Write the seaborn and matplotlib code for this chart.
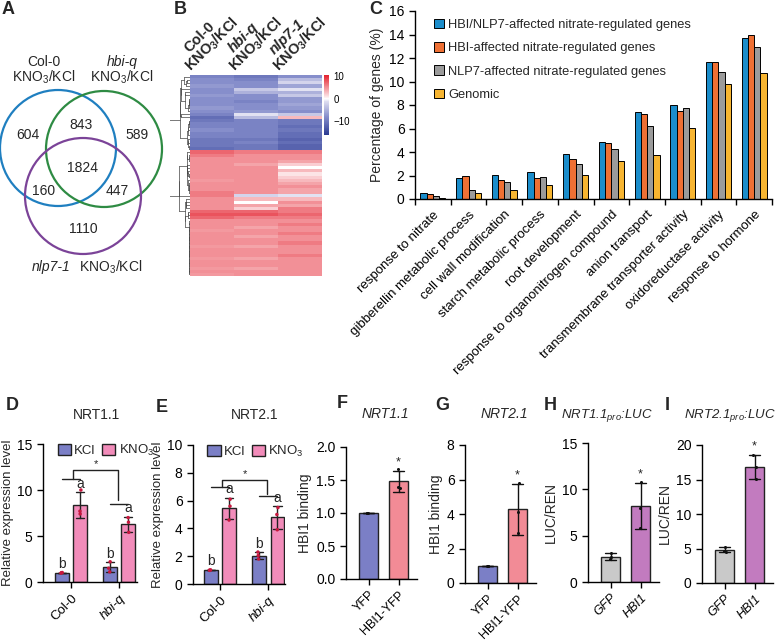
import numpy as np
import pandas as pd
import matplotlib
matplotlib.use('Agg')
import matplotlib.pyplot as plt
import seaborn as sns
from matplotlib.patches import Circle
from matplotlib.colors import LinearSegmentedColormap

# ---------------- data ----------------
# A: Venn counts (Col-0 only, Col-0&hbi-q, hbi-q only, all, Col-0&nlp7-1, hbi-q&nlp7-1, nlp7-1 only)
venn_counts = [604, 843, 589, 1824, 160, 447, 1110]

# B: heatmap of KNO3/KCl values, blue block (24 rows) then red block (40 rows)
col0_vals = [-9, -8, -8, -7, -8, -8, -7, -8, -8, -8, -7, -8, -9, -11, -10, -9, -9, -8, -9, -9, -10, -10, -10, -11,
             7, 6, 5, 5, 5, 5, 5, 5, 5, 4.5, 5, 5, 5, 6, 6, 5, 5, 5, 5, 7, 8, 7, 5, 5,
             5, 4.5, 5, 5, 5, 5, 4.5, 5, 5, 5, 4.5, 5, 5, 4.5, 5, 4.5]
hbiq_vals = [-10, -9, -8, -8, -3, -5, -8, -8, -9, -8, -8, -7, -1, -4, -9, -9, -9, -9, -9, -9, -10, -9, -10, -10,
             6, 5, 5, 5, 4, 5, 5, 5, 5, 5, 5, 5, 5, 5, -2, 3, 0, 4, 2, 7, 8, 6, 5, 5,
             4, 5, 5, 4, 5, 5, 4, 5, 5, 5, 4, 5, 5, 4, 5, 5]
nlp7_vals = [-8, -4, -2, -6, -1, -5, -3, -7, -7, -6, -7, -8, -3, 3, -10, -10, -11, -10, -11, -11, -12, -11, -12, -12,
             6, 5, 5, 4, 2, 0, 3, 1, 2, 3, 4, 5, 4, 4, -1, 3, 5, 4, 6, 6, 7, 6, 5, 6,
             5, 5, 6, 5, 5, 6, 5, 5, 5, 6, 5, 5, 5, 5, 5, 5]

# C: GO term percentages
go_terms = ['response to nitrate', 'gibberellin metabolic process', 'cell wall modification',
            'starch metabolic process', 'root development', 'response to organonitrogen compound',
            'anion transport', 'transmembrane transporter activity', 'oxidoreductase activity',
            'response to hormone']
series_names = ['HBI/NLP7-affected nitrate-regulated genes', 'HBI-affected nitrate-regulated genes',
                'NLP7-affected nitrate-regulated genes', 'Genomic']
pct_hbi_nlp7 = [0.55, 1.78, 2.07, 2.3, 3.82, 4.82, 7.37, 7.99, 11.67, 13.71]
pct_hbi = [0.42, 2.0, 1.6, 1.8, 3.4, 4.79, 7.22, 7.5, 11.64, 13.99]
pct_nlp7 = [0.22, 0.8, 1.42, 1.87, 3.0, 4.22, 6.18, 7.73, 10.8, 12.92]
pct_genomic = [0.08, 0.5, 0.74, 1.22, 2.07, 3.26, 3.77, 6.03, 9.75, 10.74]

# D/E: qPCR replicates
genotypes = ['Col-0', 'hbi-q']
nrt11_kcl = [[0.97, 1.0, 1.03], [2.2, 1.5, 1.1]]
nrt11_kno3 = [[10.0, 7.7, 7.4], [7.0, 6.5, 5.4]]
nrt21_kcl = [[0.98, 1.0, 1.02], [2.3, 2.05, 1.8]]
nrt21_kno3 = [[6.1, 5.6, 4.6], [5.5, 5.0, 3.9]]

# F-I: ChIP and LUC replicates
chip_groups = ['YFP', 'HBI1-YFP']
chip_nrt11 = [[1.0, 1.0, 1.0], [1.66, 1.40, 1.38]]
chip_nrt21 = [[1.0, 1.0, 1.0], [5.8, 4.1, 2.9]]
luc_groups = ['GFP', 'HBI1']
luc_nrt11 = [[3.1, 2.7, 2.45], [10.8, 8.0, 5.8]]
luc_nrt21 = [[5.2, 4.7, 4.5], [18.5, 16.8, 15.1]]

# ---------------- style ----------------
sns.set_style('ticks')
plt.rcParams['font.family'] = ['Liberation Sans', 'DejaVu Sans']
plt.rcParams['mathtext.default'] = 'regular'
plt.rcParams['axes.linewidth'] = 1.0
plt.rcParams['axes.edgecolor'] = 'black'
plt.rcParams['xtick.color'] = 'black'
plt.rcParams['ytick.color'] = 'black'

W, H = 776, 640
fig = plt.figure(figsize=(W / 100, H / 100), dpi=100)


def box(l, t, r, b):
    return fig.add_axes([l / W, 1 - b / H, (r - l) / W, (b - t) / H])


def px_text(x, y, s, **kw):
    fig.text(x / W, 1 - y / H, s, **kw)


# ---------------- A: Venn ----------------
axa = box(0, 0, 178, 290)
axa.set_xlim(0, 178)
axa.set_ylim(290, 0)
axa.axis('off')
venn_circles = [((58, 148), '#1f7fc0'), ((104, 149), '#2e8b43'), ((83, 196), '#7b4398')]
for (cx, cy), col in venn_circles:
    axa.add_patch(Circle((cx, cy), 58, fill=False, ec=col, lw=1.6))
count_pos = [(28, 135), (81, 125), (137, 135), (83, 168), (44, 191), (117, 191), (83, 229)]
for (x, y), n in zip(count_pos, venn_counts):
    axa.text(x, y, str(n), ha='center', va='center', fontsize=10)
axa.text(44, 62, 'Col-0', ha='center', va='center', fontsize=10)
axa.text(44, 77, 'KNO$_3$/KCl', ha='center', va='center', fontsize=10)
axa.text(122, 62, 'hbi-q', ha='center', va='center', fontsize=10, style='italic')
axa.text(122, 77, 'KNO$_3$/KCl', ha='center', va='center', fontsize=10)
axa.text(71, 267, 'nlp7-1', ha='right', va='center', fontsize=10, style='italic')
axa.text(79, 267, 'KNO$_3$/KCl', ha='left', va='center', fontsize=10)

# ---------------- B: heatmap ----------------
hm = pd.DataFrame({'Col-0': col0_vals, 'hbi-q': hbiq_vals, 'nlp7-1': nlp7_vals})
cmap = LinearSegmentedColormap.from_list(
    'bwr_custom',
    [(0.0, '#2b3a92'), (0.3, '#858dcb'), (0.56, '#dedef0'), (0.604, '#ffffff'),
     (0.66, '#fbd8db'), (1.0, '#e3202d')])
axh = box(190, 75, 322, 276)
cax = box(324, 75, 329, 135)
sns.heatmap(hm, ax=axh, cmap=cmap, vmin=-16, vmax=10.5, cbar_ax=cax,
            xticklabels=False, yticklabels=False)
cbar = axh.collections[0].colorbar
cbar.set_ticks([10, 0, -10])
cbar.outline.set_visible(False)
cbar.ax.tick_params(labelsize=7, length=0, pad=3)

first_lines = ['Col-0', 'hbi-q', 'nlp7-1']
first_styles = ['normal', 'italic', 'italic']
for j in range(3):
    axh.annotate('KNO$_3$/KCl', xy=(j + 0.5, 1.0), xycoords=('data', 'axes fraction'),
                 xytext=(-21, 3), textcoords='offset pixels', rotation=45,
                 rotation_mode='anchor', ha='left', va='baseline',
                 fontsize=10.5, fontweight='bold', annotation_clip=False)
    axh.annotate(first_lines[j], xy=(j + 0.5, 1.0), xycoords=('data', 'axes fraction'),
                 xytext=(-10, 35), textcoords='offset pixels', rotation=45,
                 rotation_mode='anchor', ha='center', va='baseline',
                 fontsize=10.5, fontweight='bold', style=first_styles[j],
                 annotation_clip=False)


# row dendrogram: greedy merging of neighbouring rows (keeps heatmap order)
def adjacent_linkage(rows):
    nodes = [(i + 0.5, 0.0, rows[i].astype(float), 1) for i in range(len(rows))]
    segs = []
    while len(nodes) > 1:
        gaps = [np.linalg.norm(nodes[k][2] - nodes[k + 1][2]) for k in range(len(nodes) - 1)]
        k = int(np.argmin(gaps))
        (ya, ha, va, na), (yb, hb, vb, nb) = nodes[k], nodes[k + 1]
        h = max(gaps[k], ha, hb)
        segs += [([ha, h], [ya, ya]), ([hb, h], [yb, yb]), ([h, h], [ya, yb])]
        nodes[k:k + 2] = [((ya + yb) / 2, h, (va * na + vb * nb) / (na + nb), na + nb)]
    return segs


segs = adjacent_linkage(hm.values)
axd_ = box(170, 75, 190, 276)
for xs, ys in segs:
    axd_.plot(xs, ys, color='#444444', lw=0.5)
heights = sorted(set(s[0][1] for s in segs))
axd_.set_xlim(heights[-2] + 0.5 * (heights[-1] - heights[-2]), 0)
axd_.set_ylim(len(hm), 0)
axd_.axis('off')

# ---------------- C: GO bars ----------------
dfc = pd.DataFrame({
    'term': np.tile(go_terms, 4),
    'series': np.repeat(series_names, len(go_terms)),
    'pct': np.concatenate([pct_hbi_nlp7, pct_hbi, pct_nlp7, pct_genomic]),
})
axc = box(415, 11, 772, 199)
sns.barplot(dfc, x='term', y='pct', hue='series', palette=['#1b8dcb', '#ee7034', '#9b9b9b', '#f7b531'],
            width=0.7, gap=0, edgecolor='black', linewidth=0.7, errorbar=None, saturation=1, ax=axc)
axc.set_ylim(0, 16)
axc.set_yticks(range(0, 17, 2))
axc.set_xlim(-0.5, 9.5)
axc.set_xticks(range(10))
axc.set_xticklabels(go_terms, rotation=45, ha='right', rotation_mode='anchor', fontsize=9.5)
axc.set_xticks(np.arange(-0.5, 10, 1), minor=True)
axc.tick_params(axis='x', which='major', length=0, pad=7)
axc.tick_params(axis='x', which='minor', length=4, width=1)
axc.tick_params(axis='y', labelsize=10, length=4, width=1)
axc.set_xlabel('')
axc.set_ylabel('Percentage of genes (%)', fontsize=10, labelpad=4)
sns.despine(ax=axc)
axc.legend(loc='upper left', bbox_to_anchor=(0.04, 0.985), frameon=False, handlelength=0.75,
           handleheight=0.75, handletextpad=0.3, labelspacing=0.85, fontsize=9.3, borderaxespad=0)


# ---------------- D, E: qPCR ----------------
def expr_panel(l, t, r, b, kcl, kno3, ymax, step, xlim, lines, top, right_end):
    ax = box(l, t, r, b)
    rows = []
    for g, a, c in zip(genotypes, kcl, kno3):
        rows += [(g, 'KCl', v) for v in a] + [(g, 'KNO$_3$', v) for v in c]
    df = pd.DataFrame(rows, columns=['geno', 'trt', 'val'])
    sns.barplot(df, x='geno', y='val', hue='trt', palette=['#7b7fc6', '#f28cba'], width=0.76, gap=0.26,
                errorbar='sd', capsize=0.35, err_kws={'color': '#222222', 'linewidth': 1},
                edgecolor='#222222', linewidth=1, saturation=1, ax=ax)
    sns.stripplot(df, x='geno', y='val', hue='trt', dodge=True, jitter=0.04, palette=['#c8173e', '#c8173e'],
                  size=2.5, legend=False, ax=ax)
    stats = df.groupby(['geno', 'trt'], sort=False)['val'].agg(['mean', 'std'])
    for cont, trt, letter in zip(ax.containers, ['KCl', 'KNO$_3$'], ['b', 'a']):
        for bar, g in zip(cont, genotypes):
            m, s = stats.loc[(g, trt)]
            ax.text(bar.get_x() + bar.get_width() / 2, m + s + ymax * 0.01, letter,
                    ha='center', va='bottom', fontsize=10)
    # significance bracket
    ax.plot([-0.19, 0.19], [lines[0]] * 2, color='#222222', lw=1)
    ax.plot([0.81, 1.19], [lines[1]] * 2, color='#222222', lw=1)
    ax.plot([0.04, 0.04, 0.98, 0.98], [lines[0], top, top, right_end], color='#222222', lw=1)
    ax.text(0.51, top + ymax * 0.005, '*', ha='center', va='bottom', fontsize=8)
    ax.set_ylim(0, ymax)
    ax.set_yticks(np.arange(0, ymax + 0.1, step))
    ax.set_xlim(*xlim)
    ax.set_xlabel('')
    ax.set_ylabel('Relative expression level', fontsize=9.5, labelpad=2)
    ax.set_xticks([0, 1])
    ax.set_xticklabels(genotypes, rotation=45, ha='right', rotation_mode='anchor', fontsize=9.5)
    ax.get_xticklabels()[1].set_style('italic')
    ax.tick_params(length=4, width=1, labelsize=10)
    ax.tick_params(axis='x', labelsize=9.5)
    sns.despine(ax=ax)
    ax.legend(loc='upper left', bbox_to_anchor=(0.1, 1.045), ncol=2, frameon=False, handlelength=1.0,
              handleheight=0.9, handletextpad=0.25, columnspacing=0.5, fontsize=9.5, borderaxespad=0)
    return ax


expr_panel(43, 444, 137, 582, nrt11_kcl, nrt11_kno3, 15, 5, (-0.583, 1.375), (11.2, 8.5), 12.2, 8.9)
expr_panel(193, 445, 285, 584, nrt21_kcl, nrt21_kno3, 10, 2, (-0.56, 1.35), (7.0, 6.3), 7.5, 6.5)


# ---------------- F-I: ChIP / LUC ----------------
def small_panel(l, t, b, groups, reps, colors, ymax, ticks, ticklabels, ylabel, italic_x):
    ax = box(l, t, l + 2.35 * 30, b)
    rows = [(g, v) for g, vals in zip(groups, reps) for v in vals]
    df = pd.DataFrame(rows, columns=['grp', 'val'])
    sns.barplot(df, x='grp', y='val', hue='grp', palette=colors, width=0.65, legend=False,
                errorbar='sd', capsize=0.35, err_kws={'color': '#111111', 'linewidth': 1},
                edgecolor='#222222', linewidth=1, saturation=1, ax=ax)
    sns.stripplot(df, x='grp', y='val', color='#111111', jitter=0.06, size=2.2, ax=ax)
    top = df[df.grp == groups[1]]['val']
    ax.text(1, top.mean() + top.std() + ymax * 0.02, '*', ha='center', va='bottom', fontsize=9)
    ax.set_ylim(0, ymax)
    ax.set_yticks(ticks)
    ax.set_yticklabels(ticklabels)
    ax.set_xlim(-0.75, 1.6)
    ax.set_xlabel('')
    ax.set_ylabel(ylabel, fontsize=10, labelpad=3)
    ax.set_xticks([0, 1])
    ax.set_xticklabels(groups, rotation=45, ha='right', rotation_mode='anchor', fontsize=9,
                       style='italic' if italic_x else 'normal')
    ax.tick_params(length=4, width=1, labelsize=10)
    ax.tick_params(axis='x', labelsize=9, pad=3)
    sns.despine(ax=ax)
    return ax


small_panel(346, 447, 579, chip_groups, chip_nrt11, ['#7b7fc6', '#f28b96'], 2.0,
            [0, 0.5, 1.0, 1.5, 2.0], ['0.0', '0.5', '1.0', '1.5', '2.0'], 'HBI1 binding', False)
small_panel(465, 445, 583, chip_groups, chip_nrt21, ['#7b7fc6', '#f28b96'], 8,
            [0, 2, 4, 6, 8], ['0', '2', '4', '6', '8'], 'HBI1 binding', False)
small_panel(588, 443, 582, luc_groups, luc_nrt11, ['#c9c9c9', '#c27bbf'], 15,
            [0, 5, 10, 15], ['0', '5', '10', '15'], 'LUC/REN', True)
small_panel(702, 445, 583, luc_groups, luc_nrt21, ['#c9c9c9', '#c27bbf'], 20,
            [0, 5, 10, 15, 20], ['0', '5', '10', '15', '20'], 'LUC/REN', True)

# ---------------- titles and panel letters ----------------
px_text(97, 415, 'NRT1.1', ha='center', va='center', fontsize=10)
px_text(255, 415, 'NRT2.1', ha='center', va='center', fontsize=10)
px_text(385, 414, 'NRT1.1', ha='center', va='center', fontsize=10, style='italic')
px_text(504, 414, 'NRT2.1', ha='center', va='center', fontsize=10, style='italic')
px_text(561, 415, 'NRT1.1$_{pro}$:LUC', ha='left', va='center', fontsize=9.5, style='italic')
px_text(684, 415, 'NRT2.1$_{pro}$:LUC', ha='left', va='center', fontsize=9.5, style='italic')

for letter, x, y in [('A', 8, 10), ('B', 180, 9), ('C', 376, 9), ('D', 12, 406), ('E', 162, 407),
                     ('F', 342, 403), ('G', 442, 405), ('H', 550, 405), ('I', 667, 405)]:
    px_text(x, y, letter, ha='center', va='center', fontsize=13, fontweight='bold')

fig.savefig('out.png', dpi=100, facecolor='white')
